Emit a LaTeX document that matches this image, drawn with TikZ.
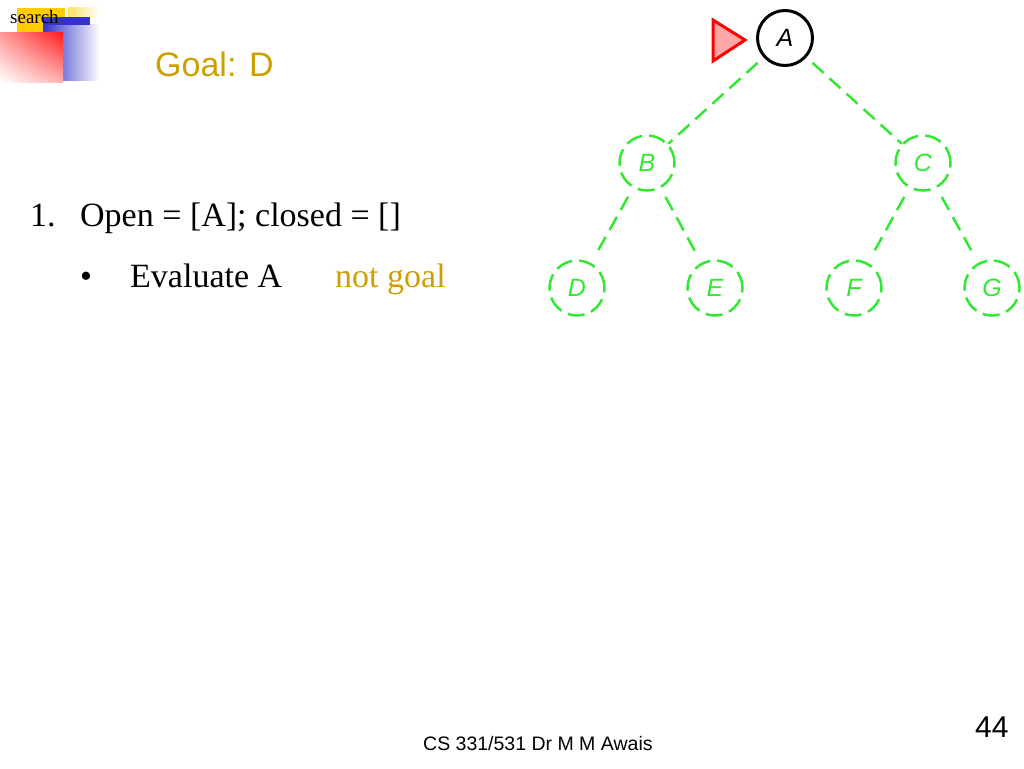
\documentclass[tikz,border=0pt]{standalone}
\usepackage{fontspec}
\setmainfont{Liberation Serif}
\setsansfont{Liberation Sans}
\usepackage{tikz}
\usetikzlibrary{shadings}
\usepackage{xcolor}
\definecolor{goalgold}{RGB}{204,160,0}
\definecolor{visitgreen}{RGB}{51,232,51}
\definecolor{logoyellow}{RGB}{255,204,0}
\definecolor{logoblue}{RGB}{51,51,204}
\definecolor{logored}{RGB}{255,30,30}

\tikzset{
  treenode/.style={circle, minimum size=55pt, inner sep=0pt, line width=2.5pt,
    draw=visitgreen, dash pattern=on 17pt off 7pt, text=visitgreen,
    font=\sffamily\itshape\fontsize{25}{28}\selectfont},
  treeedge/.style={visitgreen, line width=2.5pt, dash pattern=on 15pt off 8pt},
  slidetext/.style={anchor=base west, inner sep=0pt, font=\fontsize{34}{40}\selectfont},
}

\begin{document}
\begin{tikzpicture}[x=1pt, y=-1pt]
    \useasboundingbox (0,0) rectangle (1024,768);

    % Logo
    \fill[logoyellow] (17,8) rectangle (65,33);
    \shade[left color=logoyellow!60, right color=white] (68,8) rectangle (100,17);
    \shade[left color=logoblue, right color=white] (43,25) rectangle (100,80);
    \fill[logoblue] (43,17) rectangle (90,25);
    \shade[upper right=logored, upper left=logored!45, lower right=logored!35, lower left=white] (0,33) rectangle (63,82);
    \node[anchor=base west, inner sep=0pt, font=\fontsize{19}{22}\selectfont] (logo) at (10,24) {search};

    % Title
    \node[slidetext, text=goalgold, font=\sffamily\fontsize{34}{40}\selectfont] (goal) at (155,77) {Goal: D};

    % Steps
    \node[slidetext] (num) at (30,226) {1.};
    \node[slidetext] (open) at (80,226) {Open = [A]; closed = []};
    \node[slidetext] (bullet) at (80,287) {\textbullet};
    \node[slidetext] (eval) at (130,287) {Evaluate A};
    \node[slidetext, text=goalgold] (notgoal) at (335,287) {not goal};

    % Tree
    \node[treenode, draw=black, solid, text=black, line width=3pt] (A) at (785,38) {A};
    \node[treenode] (B) at (647,163) {B};
    \node[treenode] (C) at (923,163) {C};
    \node[treenode] (D) at (577,288) {D};
    \node[treenode] (E) at (715,288) {E};
    \node[treenode] (F) at (854,288) {F};
    \node[treenode] (G) at (992,288) {G};

    \draw[treeedge, shorten <=8pt] (A) -- (B);
    \draw[treeedge, shorten <=8pt] (A) -- (C);
    \draw[treeedge, shorten <=10pt, shorten >=10pt] (B) -- (D);
    \draw[treeedge, shorten <=10pt, shorten >=10pt] (B) -- (E);
    \draw[treeedge, shorten <=10pt, shorten >=10pt] (C) -- (F);
    \draw[treeedge, shorten <=10pt, shorten >=10pt] (C) -- (G);

    % Pointer
    \draw[red, fill=red!35, line width=3pt] (713,20) -- (745,40) -- (713,61) -- cycle;

    % Footer
    \node[anchor=base west, inner sep=0pt, font=\sffamily\fontsize{19.5}{22}\selectfont] (footer) at (423,750) {CS 331/531 Dr M M Awais};
    \node[anchor=base west, inner sep=0pt, font=\sffamily\fontsize{30}{34}\selectfont] (page) at (975,737) {44};
\end{tikzpicture}
\end{document}
